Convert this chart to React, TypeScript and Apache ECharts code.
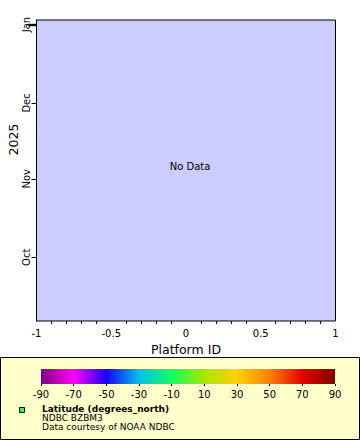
import React, { useEffect, useRef } from "react";
import * as echarts from "echarts";

// ---- data ----
const xAxisTitle = "Platform ID";
const yAxisTitle = "2025";
const noDataText = "No Data";
const monthLabels = ["Jan", "Feb", "Mar", "Apr", "May", "Jun", "Jul", "Aug", "Sep", "Oct", "Nov", "Dec"];
const timeStart = [2025, 8, 5, 19];
const timeEnd = [2026, 0, 2, 19];
const xRange = [-1, 1];
const xInterval = 0.5;
const platformData: number[][] = []; // no data in the reference
const colorbarValues = [-90, -70, -50, -30, -10, 10, 30, 50, 70, 90];
const colorbarColors = ["#800080", "#ff00ff", "#1a00ff", "#00c0f0", "#10ff60", "#a8e800", "#ffd000", "#ff8000", "#e80000", "#800000"];
const colorbarInterval = 20;
const legendMarkerColor = "#33ff33";
const legendTitle = "Latitude (degrees_north)";
const legendLines = ["NDBC BZBM3", "Data courtesy of NOAA NDBC"];

const FONT = "DejaVu Sans";

export default function App() {
  const ref = useRef<HTMLDivElement>(null);
  useEffect(() => {
    if (!ref.current) return;
    const chart = echarts.init(ref.current, null, { renderer: "svg" });
    const cbMin = colorbarValues[0];
    const cbMax = colorbarValues[colorbarValues.length - 1];
    const cbSpan = cbMax - cbMin;
    const stops = colorbarValues.map((v, i) => ({ offset: (v - cbMin) / cbSpan, color: colorbarColors[i] }));
    const tMin = new Date(timeStart[0], timeStart[1], timeStart[2], timeStart[3]).getTime();
    const tMax = new Date(timeEnd[0], timeEnd[1], timeEnd[2], timeEnd[3]).getTime();

    chart.setOption({
      animation: false,
      textStyle: { fontFamily: FONT },
      grid: [
        {
          left: 36.5, width: 299, top: 20, height: 301,
          show: true, backgroundColor: "#ccccff", borderColor: "#000", borderWidth: 1,
        },
        { left: 41, width: 294, top: 369, height: 15 },
      ],
      xAxis: [
        {
          gridIndex: 0, type: "value", min: xRange[0], max: xRange[1], interval: xInterval,
          name: xAxisTitle, nameLocation: "middle", nameGap: 20,
          nameTextStyle: { fontSize: 12.5, color: "#000", fontFamily: FONT },
          axisLine: { onZero: false, lineStyle: { color: "#000", width: 1 } },
          axisTick: { length: 5, lineStyle: { color: "#000" } },
          minorTick: { show: true, splitNumber: 5, length: 3, lineStyle: { color: "#000" } },
          axisLabel: { fontSize: 10, color: "#000", margin: 7, fontFamily: FONT },
          splitLine: { show: false },
        },
        {
          gridIndex: 1, type: "value", min: 0, max: cbSpan, interval: colorbarInterval,
          axisLine: { show: false, onZero: false },
          axisTick: { length: 2, lineStyle: { color: "#000" } },
          axisLabel: { fontSize: 10, color: "#000", margin: 5, fontFamily: FONT, formatter: (v: number) => String(v + cbMin) },
          splitLine: { show: false },
        },
      ],
      yAxis: [
        {
          gridIndex: 0, type: "time", min: tMin, max: tMax,
          minInterval: 28 * 86400000,
          axisLine: { onZero: false, lineStyle: { color: "#000", width: 1 } },
          axisTick: { length: 5, lineStyle: { color: "#000" } },
          axisLabel: {
            rotate: 90, fontSize: 10, color: "#000", margin: 5, fontFamily: FONT,
            formatter: (v: number) => monthLabels[new Date(v).getMonth()],
          },
          splitLine: { show: false },
        },
        { gridIndex: 1, type: "value", min: 0, max: 1, show: false },
      ],
      series: [
        { type: "scatter", xAxisIndex: 0, yAxisIndex: 0, data: platformData },
        {
          type: "custom", xAxisIndex: 1, yAxisIndex: 1,
          data: [[0, cbSpan]],
          renderItem: (_p: any, api: any) => {
            const p0 = api.coord([api.value(0), 1]);
            const p1 = api.coord([api.value(1), 0]);
            return {
              type: "rect",
              shape: { x: p0[0], y: p0[1], width: p1[0] - p0[0], height: p1[1] - p0[1] },
              style: { fill: new echarts.graphic.LinearGradient(0, 0, 1, 0, stops) },
            };
          },
        },
      ],
      graphic: [
        {
          type: "rect", z: -10, shape: { x: 0.5, y: 357.5, width: 359, height: 82 },
          style: { fill: "#ffffcc", stroke: "#000", lineWidth: 1 },
        },
        { type: "rect", shape: { x: 28, y: 23.8, width: 8.5, height: 2.4 }, style: { fill: "#000" } },
        {
          type: "text", x: 13.5, y: 139.5, rotation: Math.PI / 2,
          style: { text: yAxisTitle, fontSize: 12.5, fill: "#000", fontFamily: FONT, align: "center", verticalAlign: "middle" },
        },
        {
          type: "text", x: 190, y: 166.5,
          style: { text: noDataText, fontSize: 10, fill: "#000", fontFamily: FONT, align: "center", verticalAlign: "middle" },
        },
        {
          type: "rect", shape: { x: 19.5, y: 407.5, width: 5, height: 5 },
          style: { fill: legendMarkerColor, stroke: "#000", lineWidth: 1 },
        },
        {
          type: "text", x: 42, y: 409,
          style: { text: legendTitle, fontSize: 9, fontWeight: "bold", fill: "#000", fontFamily: FONT, verticalAlign: "middle" },
        },
        ...legendLines.map((t, i) => ({
          type: "text", x: 42, y: 417.7 + i * 9,
          style: { text: t, fontSize: 9, fill: "#000", fontFamily: FONT, verticalAlign: "middle" },
        })),
      ],
    });
    return () => chart.dispose();
  }, []);
  return <div ref={ref} style={{ position: "absolute", left: 0, top: 0, width: 360, height: 440 }} />;
}
